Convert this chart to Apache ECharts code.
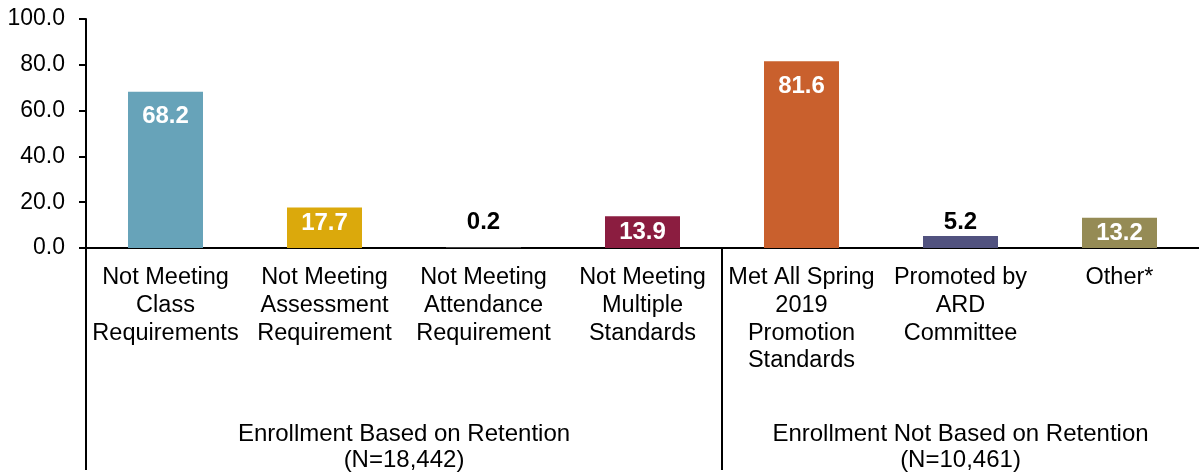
<!DOCTYPE html>
<html>
<head>
<meta charset="utf-8">
<script src="https://cdn.jsdelivr.net/npm/echarts@6/dist/echarts.min.js"></script>
<style>
  html, body { margin: 0; padding: 0; background: #fff; overflow: hidden; }
  #chart { width: 1199px; height: 473px; }
</style>
</head>
<body>
<div id="chart"></div>
<script>
const categories = [
  'Not Meeting\nClass\nRequirements',
  'Not Meeting\nAssessment\nRequirement',
  'Not Meeting\nAttendance\nRequirement',
  'Not Meeting\nMultiple\nStandards',
  'Met All Spring\n2019\nPromotion\nStandards',
  'Promoted by\nARD\nCommittee',
  'Other*'
];
const values = [68.2, 17.7, 0.2, 13.9, 81.6, 5.2, 13.2];
const barColors = ['#67a3b9', '#dba90c', '#7f7f7f', '#8b1d40', '#c9602d', '#51527f', '#958b55'];
const outsideLabel = [false, false, true, false, false, true, false];
const labelDistance = [13, 4, 13, 4, 13, 2, 4];
const groups = ['Enrollment Based on Retention\n(N=18,442)', 'Enrollment Not Based on Retention\n(N=10,461)'];
const groupCenters = [2, 5.5];
const groupEdges = [0, 4];

const font = 'Liberation Sans, Arial, sans-serif';
const chart = echarts.init(document.getElementById('chart'));

const option = {
  animation: false,
  grid: { left: 86, top: 19, width: 1120, height: 232, containLabel: false },
  xAxis: [
    {
      type: 'category',
      data: categories,
      position: 'bottom',
      axisLine: { lineStyle: { color: '#000', width: 2 } },
      axisTick: { inside: true, length: 8, lineStyle: { color: '#000', width: 2 } },
      axisLabel: {
        interval: 0, color: '#000', fontFamily: font, fontSize: 23.5,
        lineHeight: 27.7, margin: 16
      }
    },
    {
      type: 'category',
      data: categories,
      position: 'bottom',
      axisLine: { show: false },
      axisTick: { length: 127, lineStyle: { color: '#000', width: 2 } },
      axisLabel: { show: false }
    },
    {
      type: 'value',
      min: 0,
      max: 7,
      position: 'bottom',
      axisLine: { show: false },
      splitLine: { show: false },
      axisTick: { customValues: groupEdges, length: 222, lineStyle: { color: '#000', width: 2 } },
      axisLabel: {
        customValues: groupCenters,
        formatter: v => groups[groupCenters.indexOf(v)],
        color: '#000', fontFamily: font, fontSize: 24, lineHeight: 26, margin: 173
      }
    }
  ],
  yAxis: {
    type: 'value',
    min: 0,
    max: 100,
    interval: 20,
    axisLine: { show: true, lineStyle: { color: '#000', width: 2 } },
    axisTick: { show: true, length: 7, lineStyle: { color: '#000', width: 2 } },
    splitLine: { show: false },
    axisLabel: {
      formatter: v => v.toFixed(1),
      color: '#000', fontFamily: font, fontSize: 23, margin: 21
    }
  },
  series: [{
    type: 'bar',
    xAxisIndex: 0,
    barWidth: 75,
    data: values.map((v, i) => ({
      value: v,
      itemStyle: { color: barColors[i] },
      label: outsideLabel[i]
        ? { position: 'top', color: '#000', distance: labelDistance[i] }
        : { position: 'insideTop', color: '#fff', distance: labelDistance[i] }
    })),
    label: {
      show: true,
      formatter: p => p.value.toFixed(1),
      fontFamily: font,
      fontSize: 24,
      fontWeight: 'bold'
    }
  }]
};
chart.setOption(option);
</script>
</body>
</html>
